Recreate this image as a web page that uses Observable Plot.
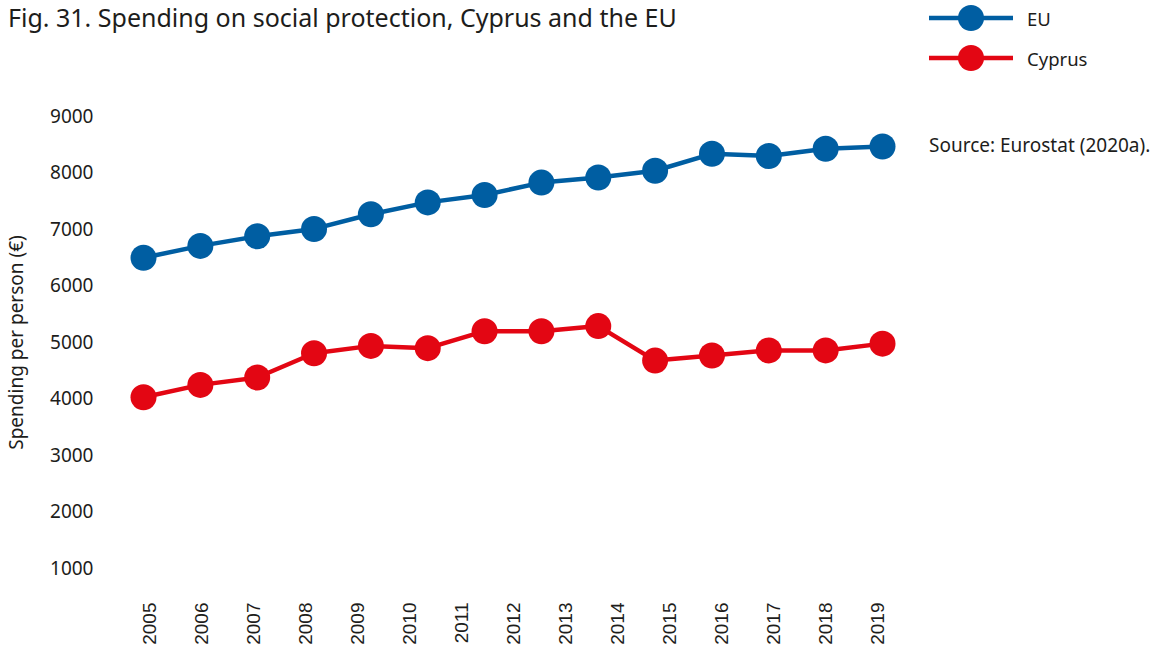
<!DOCTYPE html>
<html><head><meta charset="utf-8">
<script src="https://cdn.jsdelivr.net/npm/d3@7"></script>
<script src="https://cdn.jsdelivr.net/npm/@observablehq/plot@0.6"></script>
<style>
body{margin:0;background:#fff;font-family:"Noto Sans",sans-serif;color:#1d1d1b}
#wrap{position:relative;width:1162px;height:649px;overflow:hidden}
#title{position:absolute;left:8px;top:0px;font-size:25px;line-height:34px;white-space:nowrap}
#chart, #data{position:absolute;left:0;top:0}
#legend{position:absolute;left:929px;top:0}
.li{position:absolute;left:0;display:flex;align-items:center;white-space:nowrap;font-size:18.5px}
.li svg{margin-right:14px}
#source{position:absolute;left:929px;top:131px;font-size:19px;line-height:28px;white-space:nowrap}
</style></head><body>
<div id="wrap">
  <div id="chart"></div>
  <div id="data"></div>
  <div id="title">Fig. 31. Spending on social protection, Cyprus and the EU</div>
  <div id="legend"></div>
  <div id="source">Source: Eurostat (2020a).</div>
</div>
<script>
const years = [2005, 2006, 2007, 2008, 2009, 2010, 2011, 2012, 2013, 2014, 2015, 2016, 2017, 2018];
const euValues = [6500, 6710, 6880, 7010, 7270, 7480, 7610, 7830, 7920, 8040, 8340, 8300, 8430, 8470];
const cyprusValues = [4030, 4250, 4380, 4810, 4940, 4900, 5200, 5200, 5290, 4680, 4770, 4860, 4860, 4980];
const seriesNames = ["EU", "Cyprus"];
const seriesColors = ["#005ea2", "#e30613"];
const yTicks = [1000, 2000, 3000, 4000, 5000, 6000, 7000, 8000, 9000];
const xTickLabels = ["2005","2006","2007","2008","2009","2010","2011","2012","2013","2014","2015","2016","2017","2018","2019"];
const yLabel = "Spending per person (€)";

const rows = [
  ...years.map((y, i) => ({year: y, value: euValues[i], series: seriesNames[0]})),
  ...years.map((y, i) => ({year: y, value: cyprusValues[i], series: seriesNames[1]}))
];

const W = 1162, H = 649;
const frame = {width: W, height: H, marginLeft: 143, marginRight: 280, marginTop: 116, marginBottom: 81};
const yScale = {domain: [1000, 9000]};

const axes = Plot.plot({
  ...frame,
  style: {fontFamily: "'Noto Sans', sans-serif", color: "#1d1d1b", background: "transparent"},
  x: {type: "point", domain: xTickLabels, padding: 0},
  y: yScale,
  marks: [
    Plot.axisX({tickRotate: -90, tickSize: 0, tickPadding: 34, fontSize: 19, fontFamily: "'Liberation Sans', Arial, sans-serif", label: null}),
    Plot.axisY({ticks: yTicks, tickSize: 0, tickPadding: 50, fontSize: 19, tickFormat: d => String(d),
      label: yLabel, labelAnchor: "center", labelArrow: "none", labelOffset: 134})
  ]
});
document.getElementById("chart").appendChild(axes);

const color = {domain: seriesNames, range: seriesColors};
const dataPlot = Plot.plot({
  ...frame,
  style: {background: "transparent"},
  x: {domain: [years[0], years[years.length - 1]], axis: null},
  y: {...yScale, axis: null},
  color,
  marks: [
    Plot.line(rows, {x: "year", y: "value", z: "series", stroke: "series", strokeWidth: 4.5}),
    Plot.dot(rows, {x: "year", y: "value", fill: "series", r: 13})
  ]
});
document.getElementById("data").appendChild(dataPlot);

// legend
const legend = document.getElementById("legend");
const legendTops = [4, 44];
seriesNames.forEach((name, i) => {
  const item = document.createElement("div");
  item.className = "li";
  item.style.top = legendTops[i] + "px";
  const ns = "http://www.w3.org/2000/svg";
  const svg = document.createElementNS(ns, "svg");
  svg.setAttribute("width", 84); svg.setAttribute("height", 28);
  const ln = document.createElementNS(ns, "line");
  ln.setAttribute("x1", 0); ln.setAttribute("x2", 84); ln.setAttribute("y1", 14); ln.setAttribute("y2", 14);
  ln.setAttribute("stroke", seriesColors[i]); ln.setAttribute("stroke-width", 4.5);
  const c = document.createElementNS(ns, "circle");
  c.setAttribute("cx", 42); c.setAttribute("cy", 14); c.setAttribute("r", 13);
  c.setAttribute("fill", seriesColors[i]);
  svg.appendChild(ln); svg.appendChild(c);
  const t = document.createElement("span");
  t.textContent = name;
  item.appendChild(svg); item.appendChild(t);
  legend.appendChild(item);
});
</script>
</body></html>
